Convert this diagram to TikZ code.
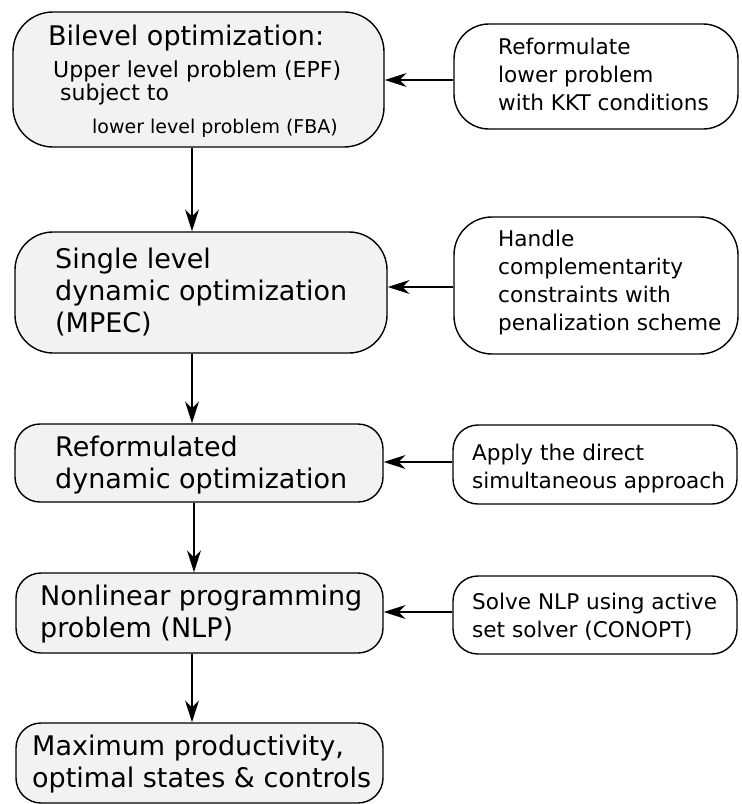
\documentclass[tikz,border=0pt]{standalone}
\usepackage{fontspec}
\setmainfont{DejaVu Sans}
\usetikzlibrary{arrows.meta}
\definecolor{boxfill}{RGB}{242,242,242}
\tikzset{
  stage/.style={draw=black, line width=1.4bp, fill=boxfill, inner sep=0pt},
  method/.style={draw=black, line width=1.4bp, fill=white, inner sep=0pt},
  txt/.style={anchor=base west, inner sep=0pt, align=left},
  big/.style={font=\fontsize{27bp}{32bp}\selectfont},
  mid/.style={font=\fontsize{22bp}{26bp}\selectfont},
  tiny/.style={font=\fontsize{19bp}{23bp}\selectfont},
  small/.style={font=\fontsize{21.6bp}{27.7bp}\selectfont},
  flow/.style={line width=1.2bp, -{Stealth[length=22bp,width=14bp,inset=7bp]}},
}
\begin{document}
\begin{tikzpicture}[x=1bp, y=-1bp]
\useasboundingbox (0,0) rectangle (742,804);

% main chain of formulations
\node[stage, rounded corners=40bp, minimum width=371bp, minimum height=135bp] (b1) at (198.5,79.5) {};
\node[stage, rounded corners=38bp, minimum width=372bp, minimum height=121bp] (b2) at (201,292.5) {};
\node[stage, rounded corners=25bp, minimum width=368bp, minimum height=78bp] (b3) at (199,463) {};
\node[stage, rounded corners=25bp, minimum width=367bp, minimum height=80bp] (b4) at (199.5,613) {};
\node[stage, rounded corners=25bp, minimum width=367bp, minimum height=80bp] (b5) at (199.5,763) {};

% transformation steps
\node[method, rounded corners=35bp, minimum width=284bp, minimum height=105bp] (r1) at (596,76.5) {};
\node[method, rounded corners=38bp, minimum width=284bp, minimum height=137bp] (r2) at (596,285.5) {};
\node[method, rounded corners=25bp, minimum width=284bp, minimum height=79bp] (r3) at (595,464.5) {};
\node[method, rounded corners=25bp, minimum width=284bp, minimum height=78bp] (r4) at (595,615) {};

% texts of the chain (anchored at the baseline of the last line)
\node[txt, big] (t1a) at (48,46) {Bilevel optimization:};
\node[txt, mid] (t1b) at (53,78) {Upper level problem (EPF)};
\node[txt, mid] (t1c) at (60,100) {subject to};
\node[txt, tiny] (t1d) at (92,133) {lower level problem (FBA)};
\node[txt, big] (t2) at (55,332) {Single level\\dynamic optimization\\(MPEC)};
\node[txt, big] (t3) at (55,488) {Reformulated\\dynamic optimization};
\node[txt, big] (t4) at (40,637) {Nonlinear programming\\problem (NLP)};
\node[txt, big] (t5) at (32,787) {Maximum productivity,\\optimal states \& controls};

% texts of the steps
\node[txt, small] (s1) at (498,110) {Reformulate\\lower problem\\with KKT conditions};
\node[txt, small] (s2) at (498,330) {Handle\\complementarity\\constraints with\\penalization scheme};
\node[txt, small] (s3) at (472,488) {Apply the direct\\simultaneous approach};
\node[txt, small] (s4) at (472,637) {Solve NLP using active\\set solver (CONOPT)};

% vertical flow
\draw[flow] (192,0 |- b1.south) -- (192,0 |- b2.north);
\draw[flow] (192,0 |- b2.south) -- (192,0 |- b3.north);
\draw[flow] (194,0 |- b3.south) -- (194,0 |- b4.north);
\draw[flow] (192,0 |- b4.south) -- (192,0 |- b5.north);

% steps feeding into the chain
\draw[flow] (r1.west |- 0,80) -- (b1.east |- 0,80);
\draw[flow] (r2.west |- 0,287) -- (b2.east |- 0,287);
\draw[flow] (r3.west |- 0,462) -- (b3.east |- 0,462);
\draw[flow] (r4.west |- 0,612) -- (b4.east |- 0,612);
\end{tikzpicture}
\end{document}
